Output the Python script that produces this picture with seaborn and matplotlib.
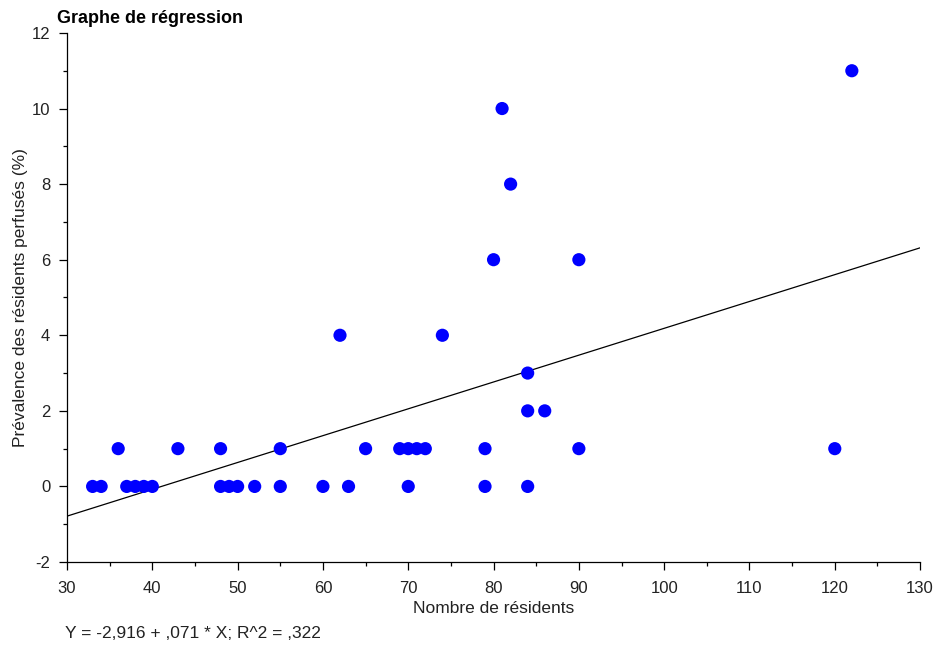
import numpy as np
import pandas as pd
import matplotlib
matplotlib.use("Agg")
import matplotlib.pyplot as plt
from matplotlib.ticker import MultipleLocator
import seaborn as sns

# Nombre de résidents per établissement and prévalence (%) of perfused residents
residents = [33, 34, 37, 38, 39, 40, 48, 49, 50, 52, 55, 60, 63, 70, 79, 84,
             36, 43, 48, 55, 65, 69, 70, 71, 72, 79, 90, 120,
             84, 86, 84, 62, 74, 80, 90, 82, 81, 122]
prevalence = [0, 0, 0, 0, 0, 0, 0, 0, 0, 0, 0, 0, 0, 0, 0, 0,
              1, 1, 1, 1, 1, 1, 1, 1, 1, 1, 1, 1,
              2, 2, 3, 4, 4, 6, 6, 8, 10, 11]

# Fitted regression line: Y = -2,916 + ,071 * X
intercept = -2.916
slope = 0.071
r_squared = 0.322

df = pd.DataFrame({"x": residents, "y": prevalence})
line_x = np.array([30, 130])
line_df = pd.DataFrame({"x": line_x, "y": intercept + slope * line_x})

sns.set_theme(style="white")
plt.rcParams["font.family"] = ["Liberation Sans", "DejaVu Sans"]
plt.rcParams["axes.unicode_minus"] = False

fig = plt.figure(figsize=(9.36, 6.46), dpi=100)
ax = fig.add_axes([0.0716, 0.130, 0.9114, 0.819])

sns.lineplot(data=line_df, x="x", y="y", ax=ax, color="black", linewidth=0.9)
sns.scatterplot(data=df, x="x", y="y", ax=ax, color="#0000ff", s=90,
                edgecolor="none", zorder=3)

ax.set_xlim(30, 130)
ax.set_ylim(-2, 12)
ax.xaxis.set_major_locator(MultipleLocator(10))
ax.xaxis.set_minor_locator(MultipleLocator(5))
ax.yaxis.set_major_locator(MultipleLocator(2))
ax.yaxis.set_minor_locator(MultipleLocator(1))
ax.tick_params(which="major", direction="out", length=6, width=0.9,
               color="black", labelsize=12, labelcolor="#222222",
               left=True, bottom=True, pad=6)
ax.tick_params(axis="x", which="major", pad=8)
ax.tick_params(which="minor", direction="out", length=3, width=0.9,
               color="black", left=True, bottom=True)

for side in ["top", "right"]:
    ax.spines[side].set_visible(False)
for side in ["left", "bottom"]:
    ax.spines[side].set_color("black")
    ax.spines[side].set_linewidth(0.9)

ax.set_xlabel("Nombre de résidents", fontsize=12.5, color="#222222", labelpad=3)
ax.set_ylabel("Prévalence des résidents perfusés (%)", fontsize=12.5,
              color="#222222", labelpad=3)

fig.text(0.061, 0.972, "Graphe de régression", fontsize=13,
         fontweight="bold", ha="left", va="center", color="black")
fig.text(0.069, 0.019, "Y = -2,916 + ,071 * X; R^2 = ,322", fontsize=12.5,
         ha="left", va="center", color="#222222")

fig.savefig("out.png", dpi=100)
